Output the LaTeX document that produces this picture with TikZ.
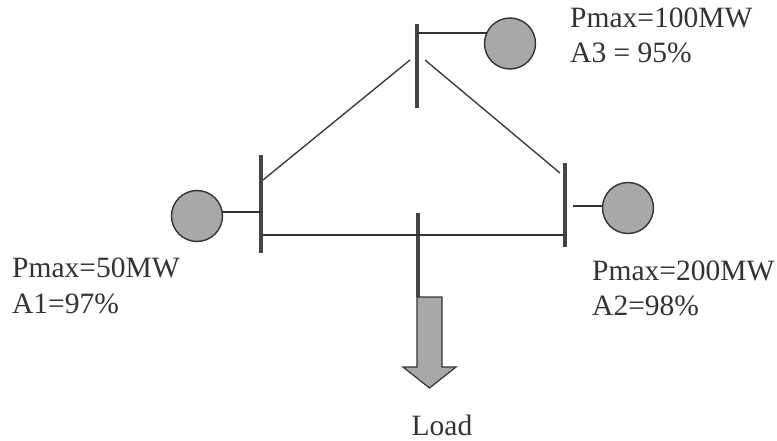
\documentclass[tikz,border=0pt]{standalone}
\usepackage{fontspec}
\setmainfont{Liberation Serif}
\begin{document}
\begin{tikzpicture}[x=1pt,y=-1pt]
\definecolor{ink}{HTML}{333333}
\definecolor{busc}{HTML}{454545}
\definecolor{genfill}{HTML}{A8A8A8}
\tikzset{
  bus/.style={draw=none,fill=busc,rectangle,inner sep=0pt,minimum width=4.5pt},
  gen/.style={circle,draw=ink,line width=1.4pt,fill=genfill,minimum size=51pt,inner sep=0pt},
  line/.style={draw=ink,line width=1.3pt},
  lbl/.style={anchor=base west,inner sep=0pt,text=ink,font=\fontsize{29.5}{35}\selectfont},
  loadarrow/.style={draw=ink,line width=1.2pt,fill=genfill,line join=miter}
}
\useasboundingbox (0,0) rectangle (777,441);
\fill[white] (0,0) rectangle (777,441);

% buses
\node[bus,minimum height=84pt] (busT) at (417,66) {};
\node[bus,minimum height=98pt] (busL) at (261,204) {};
\node[bus,minimum height=84pt] (busR) at (565,205) {};
\node[bus,minimum height=84pt] (busD) at (418,255) {};

% generators
\node[gen] (genT) at (510,43.5) {};
\node[gen] (genL) at (197,216) {};
\node[gen] (genR) at (628,208) {};

% connection points
\coordinate (t1) at (410,60);
\coordinate (t2) at (425,60);
\coordinate (l1) at (263,180);
\coordinate (r1) at (560,173);
\coordinate (h1) at (263,235);
\coordinate (h2) at (565,235);
\coordinate (gT) at (417,33);
\coordinate (gTe) at (487,33);
\coordinate (gL) at (261,212);
\coordinate (gLe) at (222,212);
\coordinate (gR) at (573,206);
\coordinate (gRe) at (603,206);

% lines
\draw[line] (t1) -- (l1);
\draw[line] (t2) -- (r1);
\draw[line] (h1) -- (h2);
\draw[line] (gT) -- (gTe);
\draw[line] (gL) -- (gLe);
\draw[line] (gR) -- (gRe);

% load arrow
\coordinate (a1) at (417,297);
\coordinate (a2) at (442,297);
\coordinate (a3) at (442,367);
\coordinate (a4) at (456,367);
\coordinate (tip) at (429.5,388);
\coordinate (a5) at (403,367);
\coordinate (a6) at (417,367);
\draw[loadarrow] (a1) -- (a2) -- (a3) -- (a4) -- (tip) -- (a5) -- (a6) -- cycle;

% labels
\node[lbl] (p3) at (570,28) {Pmax=100MW};
\node[lbl] (a3l) at (570,63) {A3 = 95\%};
\node[lbl] (p1) at (12,277) {Pmax=50MW};
\node[lbl] (a1l) at (12,313) {A1=97\%};
\node[lbl] (p2) at (592,280) {Pmax=200MW};
\node[lbl] (a2l) at (592,315) {A2=98\%};
\node[lbl,anchor=base] (load) at (442,435) {Load};
\end{tikzpicture}
\end{document}
